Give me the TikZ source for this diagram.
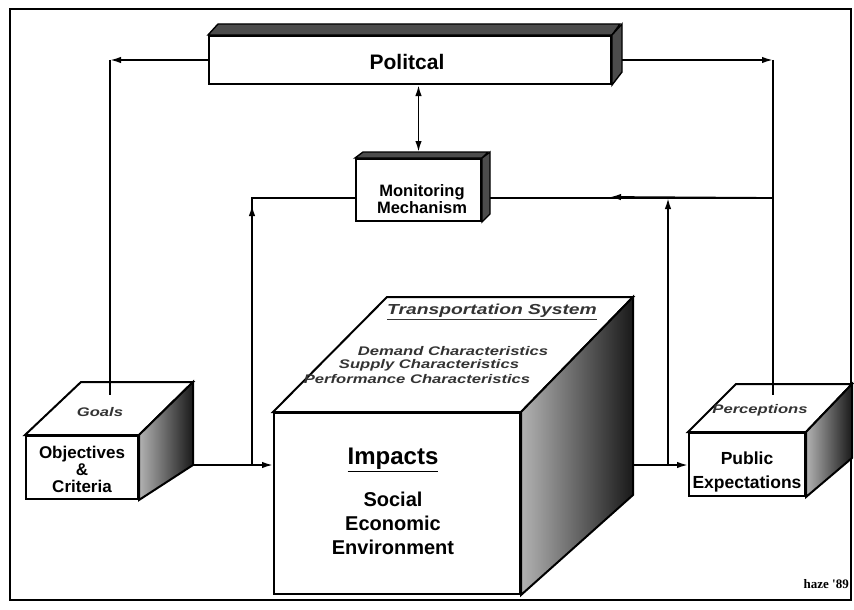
\documentclass[tikz,border=0pt]{standalone}
\usepackage{fontspec}
\setmainfont{Liberation Sans}
\newfontfamily\hzfont{Liberation Serif}
\usetikzlibrary{arrows.meta}
\tikzset{
  ln/.style={line width=1.8pt},
  arr/.style={ln,-{Latex[length=11pt,width=6.5pt]}},
  face/.style={draw, line width=2pt, fill=white, inner sep=0pt},
  sideface/.style={draw, line width=2pt, left color=black!30, right color=black!90},
  band/.style={draw, line width=1.4pt, fill=black!70},
  boldtxt/.style={font=\bfseries\fontsize{17}{17}\selectfont, align=center, inner sep=0pt},
  itxt/.style={font=\bfseries\itshape\fontsize{12.5}{13}\selectfont, text=black!80, inner sep=0pt},
}
\newcommand\widetxt[1]{\scalebox{1.33}[1]{#1}}
\begin{document}
\begin{tikzpicture}[x=1pt,y=-1pt]
\useasboundingbox (0,0) rectangle (854,610);
\fill[white] (0,0) rectangle (854,610);
\draw[line width=2pt] (10,9) rectangle (851,600);

% Political
\node[face, minimum width=402pt, minimum height=48pt, anchor=north west] (pol) at (208,35) {};
\draw[band] (pol.north west) -- ++(10,-11) -- ++(402,0) -- (pol.north east) -- cycle;
\draw[band] (pol.north east) -- ++(10,-11) -- ++(0,48) -- (pol.south east) -- cycle;
\node[boldtxt, font=\bfseries\fontsize{21}{21}\selectfont] (poltxt) at ([xshift=-3pt,yshift=-2pt]pol.center) {Politcal};

% Monitoring
\node[face, minimum width=125pt, minimum height=62pt, anchor=north west] (mon) at (355,158) {};
\draw[band] (mon.north west) -- ++(8,-6) -- ++(125,0) -- (mon.north east) -- cycle;
\draw[band] (mon.north east) -- ++(8,-6) -- ++(0,62) -- (mon.south east) -- cycle;
\node[boldtxt, font=\bfseries\fontsize{16.5}{17}\selectfont] (montxt) at (422,199) {Monitoring\\Mechanism};

% Goals / Objectives box
\node[face, minimum width=112pt, minimum height=63pt, anchor=north west] (obj) at (25,435) {};
\draw[face] (obj.north west) -- (81,382) -- (193,382) -- (obj.north east) -- cycle;
\draw[sideface] (obj.north east) -- (193,382) -- (193,465) -- (obj.south east) -- cycle;
\node[boldtxt] (objtxt) at (82,469) {Objectives\\\&\\Criteria};
\node[itxt] (goals) at (100,412) {\widetxt{Goals}};

% Perceptions / Public box
\node[face, minimum width=116pt, minimum height=63pt, anchor=north west] (perc) at (688,432) {};
\draw[face] (perc.north west) -- (736,384) -- (852,384) -- (perc.north east) -- cycle;
\draw[sideface] (perc.north east) -- (852,384) -- (852,458) -- (perc.south east) -- cycle;
\node[boldtxt, font=\bfseries\fontsize{17.5}{24}\selectfont] (perctxt) at (747,472) {Public\\Expectations};
\node[itxt] (percep) at (760,410) {\widetxt{Perceptions}};

% Impacts / Transportation system box
\node[face, minimum width=246pt, minimum height=181pt, anchor=north west] (imp) at (273,412) {};
\draw[face] (imp.north west) -- (387,297) -- (633,297) -- (imp.north east) -- cycle;
\draw[sideface] (imp.north east) -- (633,297) -- (633,495) -- (imp.south east) -- cycle;
\node[boldtxt, font=\bfseries\fontsize{24}{24}\selectfont] (imptxt) at (393,460) {\underline{Impacts}};
\node[boldtxt, font=\bfseries\fontsize{20}{24}\selectfont] (sectxt) at (393,523) {Social\\Economic\\Environment};
\node[itxt, font=\bfseries\itshape\fontsize{14.5}{15}\selectfont] (trans) at (492,312) {\widetxt{\underline{Transportation System}}};
\node[itxt] (dem) at (453,351) {\widetxt{Demand Characteristics}};
\node[itxt] (sup) at (429,365) {\widetxt{Supply Characteristics}};
\node[itxt] (perf) at (417,379) {\widetxt{Performance Characteristics}};

% connectors
\coordinate (gTop) at (110,395);
\coordinate (cA) at (pol.west -| gTop);
\draw[arr] (pol.west) -- (cA);
\draw[ln] (cA) -- (gTop);

\coordinate (pTop) at (773,395);
\coordinate (polE) at ([xshift=10pt]pol.east);
\coordinate (cB) at (polE -| pTop);
\draw[arr] (polE) -- (cB);
\draw[ln] (cB) -- (pTop);

\coordinate (polS) at (pol.south -| mon.north);
\coordinate (monT) at ([yshift=6pt]mon.north);
\draw[ln, {Latex[length=11pt,width=6.5pt]}-{Latex[length=11pt,width=6.5pt]}] (polS) -- (monT);

\coordinate (monW) at ([yshift=-8pt]mon.west);
\coordinate (jL) at (252,465);
\coordinate (cML) at (monW -| jL);
\coordinate (aML) at (252,205);
\draw[ln] (jL) -- (cML) -- (monW);
\draw[arr] (jL) -- (aML);

\coordinate (gS) at (193,465);
\draw[arr] (gS) -- (imp.west |- gS);

\coordinate (iS) at (633,465);
\draw[arr] (iS) -- (perc.west |- iS);

\coordinate (monE) at ([xshift=8pt,yshift=-8pt]mon.east);
\coordinate (cPR) at (monE -| pTop);
\coordinate (jR) at (668,465);
\coordinate (cMR) at (monE -| jR);
\coordinate (aMR) at (610,197);
\draw[ln] (cPR) -- (monE);
\draw[arr] (cPR) -- (aMR);
\draw[arr] (jR) -- (cMR);

\node[font=\hzfont\bfseries\fontsize{13}{13}\selectfont, anchor=east, inner sep=0pt] (haze) at (849,584) {haze '89};
\end{tikzpicture}
\end{document}
